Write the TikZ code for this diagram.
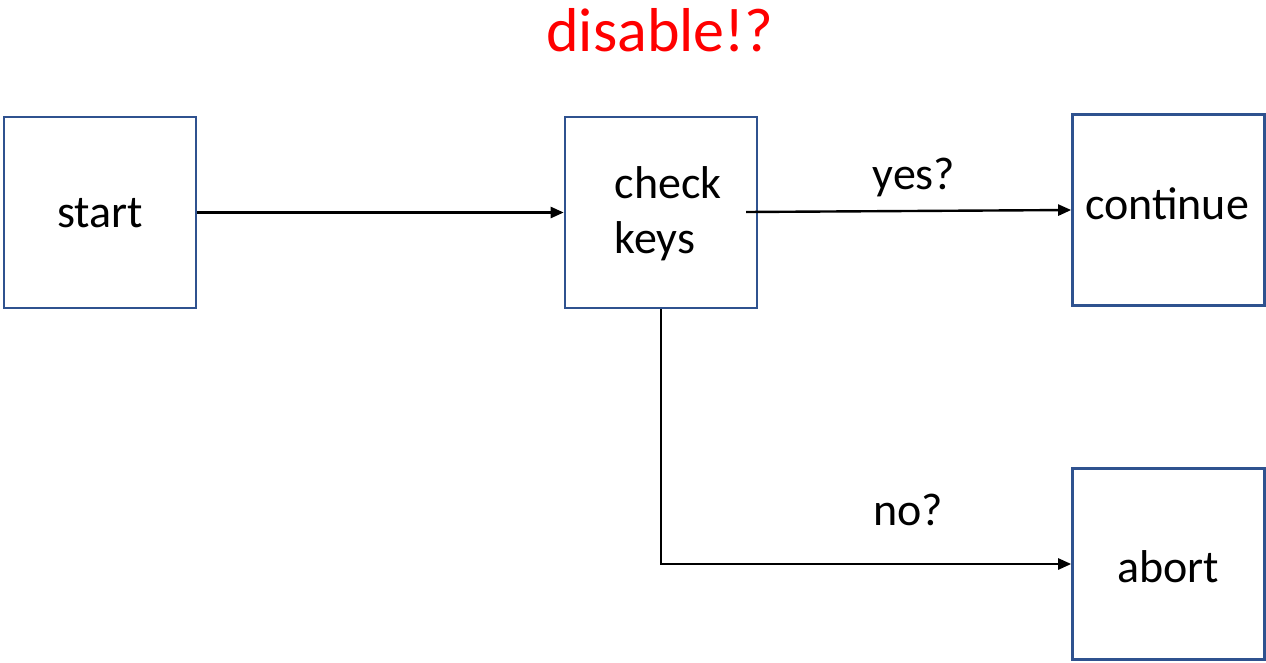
\documentclass[tikz,border=0pt]{standalone}
\usepackage{fontspec}
\setmainfont{Carlito}
\usetikzlibrary{arrows.meta}
\definecolor{boxblue}{HTML}{2F528F}
\tikzset{
  stepbox/.style={draw=boxblue, line width=2.6pt, minimum width=192pt, minimum height=191pt, inner sep=0pt},
  label text/.style={font=\fontsize{46}{55}\selectfont, inner sep=0pt},
  flow/.style={line width=2.4pt, -{Triangle[length=13pt,width=11pt]}}
}
\begin{document}
\begin{tikzpicture}[x=1pt,y=-1pt]
\useasboundingbox (0,0) rectangle (1266,662);
% process boxes
\node[stepbox] (start) at (100,212.5) {};
\node[stepbox] (check) at (661,212.5) {};
\node[stepbox] (cont) at (1168.5,210) {};
\node[stepbox] (abort) at (1168.5,564) {};
% box texts
\node[label text] (startT) at (100,213) {start};
\node[label text, align=left] (checkT) at (668,214) {check\\keys};
\node[label text] (contT) at (1167,204) {continue};
\node[label text] (abortT) at (1168,567) {abort};
% connectors
\coordinate (yesStart) at (746,212);
\draw[flow] (start) -- (check);
\draw[flow] (yesStart) -- (cont.west);
\draw[flow] (check.south) |- (abort.west);
% branch labels
\node[label text] (yesL) at (914,177) {yes?};
\node[label text] (noL) at (908,510) {no?};
% heading
\node[font=\fontsize{62}{70}\selectfont, text=red, inner sep=0pt] (title) at (660,30) {disable!?};
\end{tikzpicture}
\end{document}
